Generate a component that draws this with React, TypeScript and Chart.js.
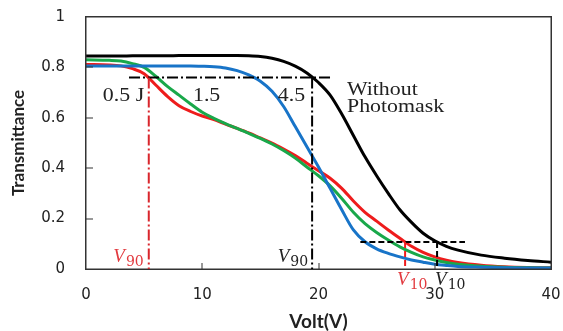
import React, { useEffect, useRef } from 'react';
import { Chart, registerables } from 'chart.js';

Chart.register(...registerables);

// Applied voltage (V)
const volts = [0, 2, 3, 4, 5, 6, 7, 8, 9, 10, 11, 12, 13, 14, 15, 16, 17, 18, 19, 20, 21, 22, 23, 24, 25, 26, 27, 28, 29, 30, 31, 32, 34, 36, 38, 40];
// Transmittance series
const withoutMask = [0.845, 0.845, 0.845, 0.846, 0.846, 0.846, 0.846, 0.847, 0.847, 0.847, 0.847, 0.847, 0.847, 0.846, 0.843, 0.836, 0.824, 0.805, 0.778, 0.74, 0.69, 0.615, 0.53, 0.445, 0.37, 0.3, 0.235, 0.185, 0.142, 0.112, 0.09, 0.075, 0.055, 0.043, 0.034, 0.027];
const dose45 = [0.806, 0.806, 0.806, 0.806, 0.806, 0.806, 0.806, 0.806, 0.806, 0.805, 0.803, 0.798, 0.787, 0.77, 0.745, 0.705, 0.645, 0.565, 0.485, 0.405, 0.32, 0.235, 0.155, 0.108, 0.08, 0.062, 0.048, 0.036, 0.027, 0.019, 0.014, 0.01, 0.007, 0.005, 0.004, 0.004];
const dose15 = [0.83, 0.828, 0.825, 0.815, 0.8, 0.765, 0.725, 0.69, 0.655, 0.622, 0.598, 0.577, 0.558, 0.538, 0.518, 0.496, 0.47, 0.44, 0.405, 0.37, 0.33, 0.28, 0.225, 0.18, 0.145, 0.115, 0.088, 0.066, 0.048, 0.036, 0.026, 0.019, 0.011, 0.007, 0.005, 0.004];
const dose05 = [0.812, 0.81, 0.806, 0.795, 0.775, 0.73, 0.685, 0.648, 0.625, 0.607, 0.593, 0.575, 0.558, 0.54, 0.52, 0.5, 0.476, 0.45, 0.42, 0.39, 0.36, 0.32, 0.27, 0.225, 0.19, 0.155, 0.122, 0.09, 0.066, 0.048, 0.035, 0.026, 0.015, 0.009, 0.006, 0.005];

// Reference levels and threshold voltages
const level90 = 0.76;
const level10 = 0.107;
const v90Red = 5.4;
const v90Black = 19.45;
const v10Red = 27.45;
const v10Black = 30.2;
const guide90Span = [3.7, 21.2];
const guide10Span = [23.6, 32.6];
const innerTicksX = [10, 20, 30];
const innerTicksY = [0.2, 0.4, 0.6, 0.8];

const RED = '#ee1c1c';
const GREEN = '#19a84a';
const BLUE = '#1874c8';
const LABEL_RED = '#e23a3f';
const AXIS = '#333';

const decor = {
  id: 'decor',
  afterDatasetsDraw(chart: any) {
    const { ctx, chartArea: a, scales } = chart;
    const xs = scales.x;
    const ys = scales.y;
    const px = (v: number) => xs.getPixelForValue(v);
    const py = (v: number) => ys.getPixelForValue(v);
    ctx.save();

    const seg = (x1: number, y1: number, x2: number, y2: number, color: string) => {
      ctx.strokeStyle = color;
      ctx.beginPath();
      ctx.moveTo(x1, y1);
      ctx.lineTo(x2, y2);
      ctx.stroke();
    };

    // frame (filled rects for crisp lines)
    const L = Math.round(a.left), T = Math.round(a.top), R = Math.round(a.right), B = Math.round(a.bottom);
    ctx.fillStyle = AXIS;
    ctx.fillRect(L - 1, T - 1, R - L + 2, 1.5);
    ctx.fillRect(L - 1, B - 0.5, R - L + 2, 1.5);
    ctx.fillRect(L - 1, T - 1, 1.5, B - T + 2);
    ctx.fillRect(R - 0.5, T - 1, 1.5, B - T + 2);

    // inward ticks
    innerTicksX.forEach((v) => ctx.fillRect(Math.round(px(v)) - 0.5, B - 6, 1, 6));
    innerTicksY.forEach((v) => ctx.fillRect(L, Math.round(py(v)) - 0.5, 7, 1));

    // dash-dot guides (90 %)
    ctx.lineWidth = 2;
    ctx.setLineDash([11, 3, 2, 3]);
    seg(px(guide90Span[0]), py(level90), px(guide90Span[1]), py(level90), '#000');
    seg(px(v90Red), py(level90), px(v90Red), py(0), '#d9262c');
    seg(px(v90Black), py(level90), px(v90Black), py(0), '#000');

    // dashed guides (10 %)
    ctx.setLineDash([6, 3]);
    seg(px(guide10Span[0]), py(level10), px(guide10Span[1]), py(level10), '#000');
    seg(px(v10Red), py(level10), px(v10Red), py(0), '#ee1c1c');
    seg(px(v10Black), py(level10), px(v10Black), py(0), '#000');
    ctx.setLineDash([]);

    // serif annotations
    const serif = (text: string, x: number, y: number) => {
      ctx.save();
      ctx.translate(x, y);
      ctx.scale(1.15, 1);
      ctx.font = '19px "Liberation Serif", "Times New Roman", serif';
      ctx.fillStyle = '#222';
      ctx.textAlign = 'left';
      ctx.textBaseline = 'middle';
      ctx.fillText(text, 0, 0);
      ctx.restore();
    };
    serif('0.5 J', px(1.45), py(0.686));
    serif('1.5', px(9.2), py(0.688));
    serif('4.5', px(16.5), py(0.688));
    serif('Without', px(22.45), py(0.71));
    serif('Photomask', px(22.45), py(0.643));

    // V labels with subscripts
    const vLabel = (sub: string, x: number, baseY: number, color: string, align: 'left' | 'right') => {
      ctx.save();
      ctx.fillStyle = color;
      ctx.textBaseline = 'alphabetic';
      ctx.font = 'italic 19px "Liberation Serif", serif';
      const wV = ctx.measureText('V').width;
      ctx.font = '14px "DejaVu Serif", "Liberation Serif", serif';
      const wS = ctx.measureText(sub).width;
      const x0 = align === 'left' ? x : x - wV - wS - 1;
      ctx.textAlign = 'left';
      ctx.font = 'italic 19px "Liberation Serif", serif';
      ctx.fillText('V', x0, baseY);
      ctx.font = '14px "DejaVu Serif", "Liberation Serif", serif';
      ctx.fillText(sub, x0 + wV + 1, baseY + 4);
      ctx.restore();
    };
    vLabel('90', px(v90Red) - 5, B - 7, LABEL_RED, 'right');
    vLabel('90', px(v90Black) - 4, B - 7, '#222', 'right');
    vLabel('10', px(v10Red) - 8, B + 16, LABEL_RED, 'left');
    vLabel('10', px(v10Black) - 2, B + 16, '#222', 'left');

    ctx.restore();
  },
};

const zeroPad = (s: any) => {
  s.paddingLeft = 0;
  s.paddingRight = 0;
  s.paddingTop = 0;
  s.paddingBottom = 0;
};

export default function App() {
  const ref = useRef<HTMLCanvasElement | null>(null);

  useEffect(() => {
    if (!ref.current) return;
    const mk = (data: number[], color: string) => ({
      data: volts.map((v, i) => ({ x: v, y: data[i] })),
      borderColor: color,
      backgroundColor: color,
      borderWidth: 3,
      pointRadius: 0,
      cubicInterpolationMode: 'monotone' as const,
      fill: false,
    });
    const chart = new Chart(ref.current, {
      type: 'line',
      data: {
        datasets: [
          { label: 'Without Photomask', ...mk(withoutMask, '#000') },
          { label: '4.5 J', ...mk(dose45, BLUE) },
          { label: '1.5 J', ...mk(dose15, GREEN) },
          { label: '0.5 J', ...mk(dose05, RED) },
        ],
      },
      options: {
        responsive: false,
        animation: false,
        devicePixelRatio: 1,
        layout: { padding: { top: 17, right: 12, left: 0, bottom: 0 } },
        plugins: { legend: { display: false }, tooltip: { enabled: false } },
        scales: {
          x: {
            type: 'linear',
            min: 0,
            max: 40,
            grid: { display: false, drawTicks: false },
            border: { display: false },
            ticks: {
              stepSize: 10,
              padding: 17,
              color: '#222',
              font: { family: '"DejaVu Sans", sans-serif', size: 15 },
            },
            title: {
              display: true,
              text: 'Volt(V)',
              color: '#222',
              padding: 0,
              font: { family: 'Lato, sans-serif', size: 19, weight: 'bold', lineHeight: 1 },
            },
            afterFit: (s: any) => {
              s.height = 62;
              zeroPad(s);
            },
          },
          y: {
            min: 0,
            max: 1,
            grid: { display: false, drawTicks: false },
            border: { display: false },
            ticks: {
              stepSize: 0.2,
              padding: 21,
              color: '#222',
              font: { family: '"DejaVu Sans", sans-serif', size: 15 },
              callback: (v: any) => String(Number(Number(v).toFixed(1))),
            },
            title: {
              display: true,
              text: 'Transmittance',
              color: '#222',
              padding: { top: 8, bottom: 0 },
              font: { family: 'Lato, sans-serif', size: 17, weight: 'bold' },
            },
            afterFit: (s: any) => {
              s.width = 86;
              zeroPad(s);
            },
          },
        },
      },
      plugins: [decor],
    });
    return () => chart.destroy();
  }, []);

  return (
    <div style={{ position: 'fixed', left: 0, top: 0, width: 563, height: 331, background: '#fff' }}>
      <canvas ref={ref} width={563} height={331} />
    </div>
  );
}
